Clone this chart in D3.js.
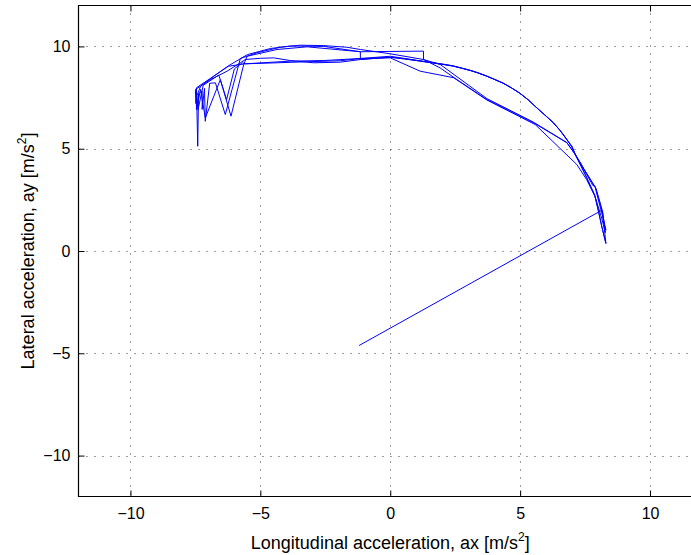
<!DOCTYPE html>
<html>
<head>
<meta charset="utf-8">
<script src="https://cdn.jsdelivr.net/npm/d3@7"></script>
<style>
  html, body { margin: 0; padding: 0; background: #fff; }
  svg { display: block; }
  text { font-family: "Liberation Sans", Arial, Helvetica, sans-serif; fill: #000; }
</style>
</head>
<body>
<svg id="chart" width="691" height="555"></svg>
<script>
// Longitudinal acceleration samples, ax [m/s^2]
const axSamples = [
  -1.20, 8.14, 8.22, 8.30, 8.20, 8.05, 7.92, 7.88, 7.80, 7.56,
  7.35, 7.12, 7.00, 6.80, 6.55, 6.28, 5.95, 5.64, 5.32, 5.00,
  4.68, 4.36, 4.02, 3.72, 3.38, 3.08, 2.75, 2.44, 2.12, 1.80,
  1.48, 1.15, 0.55, 0.00, -0.60, -1.15, -1.92, -2.95, -3.85, -4.49,
  -5.00, -5.58, -5.77, -6.28, -6.92, -7.50, -7.48, -7.46, -7.41, -7.38,
  -7.24, -7.24, -7.15, -7.12, -6.95, -6.73, -6.35, -5.90, -5.77, -5.13,
  -4.23, -3.46, -2.56, -1.67, -1.15, 0.00, 1.28, 1.92, 2.60, 3.72,
  4.60, 5.51, 6.20, 6.80, 7.12, 7.35, 7.56, 7.72, 7.88, 8.02,
  8.14, 8.30, 8.24, 8.18, 8.05, 7.90, 7.56, 7.30, 7.12, 6.98,
  6.78, 6.53, 6.26, 5.93, 5.62, 5.30, 4.98, 4.66, 4.34, 4.00,
  3.70, 3.36, 3.06, 2.73, 2.42, 2.10, 1.78, 1.46, 1.13, 0.00,
  -1.15, -2.56, -3.85, -5.58, -6.23, -6.80, -7.46, -7.46, -7.30, -7.12,
  -6.54, -6.13, -5.64, -5.51, -4.36, -3.20, -1.15, 1.28, 1.28, 1.92,
  3.72, 5.51, 6.80, 7.12, 7.56, 7.85, 8.14, 8.28, 8.18, 7.92,
  7.56, 7.12, 6.99, 6.79, 6.54, 6.27, 5.94, 5.63, 5.31, 4.99,
  4.67, 4.35, 4.01, 3.71, 3.37, 3.07, 2.74, 2.43, 2.11, 1.79,
  1.47, 1.14, 0.00, -1.15, -1.15, -2.56, -3.85, -4.60, -5.50, -6.23,
  -6.80, -7.30, -7.44, -7.40, -7.20, -6.60, -6.30, -6.00, -5.70, -5.58,
  -4.36, -3.20, -1.92, -1.15, 0.00, 1.15, 2.44, 3.72, 5.58, 7.18,
  7.56, 7.88, 8.14, 8.30
];

// Lateral acceleration samples, ay [m/s^2]
const aySamples = [
  -4.62, 1.99, 1.40, 1.02, 1.60, 2.30, 2.95, 3.17, 3.20, 3.75,
  4.25, 4.72, 5.10, 5.45, 5.88, 6.27, 6.65, 7.00, 7.38, 7.70,
  7.96, 8.19, 8.38, 8.54, 8.70, 8.82, 8.93, 9.03, 9.10, 9.16,
  9.22, 9.28, 9.40, 9.47, 9.42, 9.36, 9.23, 9.20, 9.31, 9.44,
  9.42, 9.36, 9.20, 8.79, 8.38, 7.89, 7.20, 7.95, 5.12, 7.70,
  7.81, 6.92, 7.95, 6.34, 8.20, 8.22, 6.67, 8.79, 9.41, 9.69,
  9.96, 10.06, 10.04, 9.96, 9.85, 9.64, 9.36, 8.95, 8.35, 7.40,
  6.85, 6.27, 5.75, 5.29, 4.72, 4.15, 3.58, 3.10, 2.68, 1.95,
  1.21, 0.37, 1.10, 1.80, 2.45, 3.10, 3.80, 4.30, 4.72, 5.12,
  5.47, 5.90, 6.29, 6.67, 7.02, 7.40, 7.72, 7.98, 8.21, 8.40,
  8.56, 8.72, 8.84, 8.95, 9.05, 9.12, 9.18, 9.24, 9.30, 9.52,
  9.41, 9.31, 9.28, 9.15, 9.03, 8.54, 7.98, 6.92, 7.90, 6.50,
  8.38, 6.59, 9.12, 9.52, 9.85, 9.98, 9.74, 9.77, 9.36, 9.12,
  7.45, 6.30, 5.30, 4.72, 3.60, 2.80, 1.60, 0.90, 1.90, 3.05,
  3.78, 4.72, 5.11, 5.46, 5.89, 6.28, 6.66, 7.01, 7.39, 7.71,
  7.97, 8.20, 8.39, 8.55, 8.71, 8.83, 8.94, 9.04, 9.11, 9.17,
  9.23, 9.29, 9.47, 9.36, 9.74, 10.00, 10.02, 9.90, 9.60, 9.05,
  8.54, 8.05, 7.60, 6.90, 8.10, 8.60, 7.40, 8.90, 9.20, 9.15,
  9.20, 9.25, 9.30, 9.41, 9.44, 8.79, 8.47, 7.38, 6.18, 4.23,
  3.49, 2.68, 1.21, 0.37
];

// Axis limits and tick values
const xDomain = [-12, 12];
const yDomain = [-12, 12];
const xTickValues = [-10, -5, 0, 5, 10];
const yTickValues = [-10, -5, 0, 5, 10];

const svg = d3.select("#chart");
const plot = { left: 78.5, top: 5.5, right: 702, bottom: 496.5 };

const x = d3.scaleLinear().domain(xDomain).range([plot.left, plot.right]);
const y = d3.scaleLinear().domain(yDomain).range([plot.bottom, plot.top]);

const fmt = v => (v < 0 ? "\u2212" + Math.abs(v) : String(v));

// Clip region for the data and grid
svg.append("defs").append("clipPath").attr("id", "plotClip")
  .append("rect")
  .attr("x", plot.left).attr("y", plot.top)
  .attr("width", plot.right - plot.left).attr("height", plot.bottom - plot.top);

// Dotted grid
const grid = svg.append("g").attr("clip-path", "url(#plotClip)")
  .attr("stroke", "#3a3a3a").attr("stroke-width", 1).attr("stroke-dasharray", "1,7");
grid.selectAll("line.gx").data(xTickValues).join("line")
  .attr("class", "gx")
  .attr("x1", d => Math.round(x(d)) + 0.5).attr("x2", d => Math.round(x(d)) + 0.5)
  .attr("y1", plot.top).attr("y2", plot.bottom);
grid.selectAll("line.gy").data(yTickValues).join("line")
  .attr("class", "gy")
  .attr("y1", d => Math.round(y(d)) + 0.5).attr("y2", d => Math.round(y(d)) + 0.5)
  .attr("x1", plot.left).attr("x2", plot.right);

// Trajectory
const pts = axSamples.map((v, i) => [v, aySamples[i]]);
svg.append("g").attr("clip-path", "url(#plotClip)")
  .append("path")
  .datum(pts)
  .attr("fill", "none")
  .attr("stroke", "#0000ff")
  .attr("stroke-width", 1)
  .attr("stroke-linejoin", "miter")
  .attr("d", d3.line().x(d => x(d[0])).y(d => y(d[1])));

// Axes with inward ticks
const tickLen = 6;
const xAxisBottom = d3.axisBottom(x).tickValues(xTickValues).tickSizeInner(-tickLen).tickSizeOuter(0).tickPadding(11).tickFormat(fmt);
const yAxisLeft = d3.axisLeft(y).tickValues(yTickValues).tickSizeInner(-tickLen).tickSizeOuter(0).tickPadding(8).tickFormat(fmt);
const xAxisTop = d3.axisTop(x).tickValues(xTickValues).tickSizeInner(-tickLen).tickSizeOuter(0).tickFormat("");

function styleAxis(g) {
  g.select(".domain").remove();
  g.selectAll(".tick line").attr("stroke", "#000").attr("stroke-width", 1);
  g.selectAll(".tick text").attr("font-size", 16).attr("font-family", "Liberation Sans, Arial, sans-serif").attr("fill", "#000");
}

svg.append("g").attr("transform", `translate(0,${plot.bottom})`).call(xAxisBottom).call(styleAxis);
svg.append("g").attr("transform", `translate(${plot.left},0)`).call(yAxisLeft).call(styleAxis);
svg.append("g").attr("transform", `translate(0,${plot.top})`).call(xAxisTop).call(styleAxis);

// Axes box (right edge lies outside the drawing)
svg.append("path")
  .attr("fill", "none").attr("stroke", "#000").attr("stroke-width", 1.2)
  .attr("d", `M${plot.right},${plot.top}H${plot.left}V${plot.bottom}H${plot.right}`);

// Axis titles
const xLabel = svg.append("text")
  .attr("x", x(0)).attr("y", 549)
  .attr("text-anchor", "middle").attr("font-size", 18);
xLabel.append("tspan").text("Longitudinal acceleration, ax [m/s");
xLabel.append("tspan").attr("font-size", 12).attr("dy", -8).text("2");
xLabel.append("tspan").attr("dy", 8).text("]");

const yLabel = svg.append("text")
  .attr("transform", `translate(34,${y(0)}) rotate(-90)`)
  .attr("text-anchor", "middle").attr("font-size", 18);
yLabel.append("tspan").text("Lateral acceleration, ay [m/s");
yLabel.append("tspan").attr("font-size", 12).attr("dy", -8).text("2");
yLabel.append("tspan").attr("dy", 8).text("]");
</script>
</body>
</html>
